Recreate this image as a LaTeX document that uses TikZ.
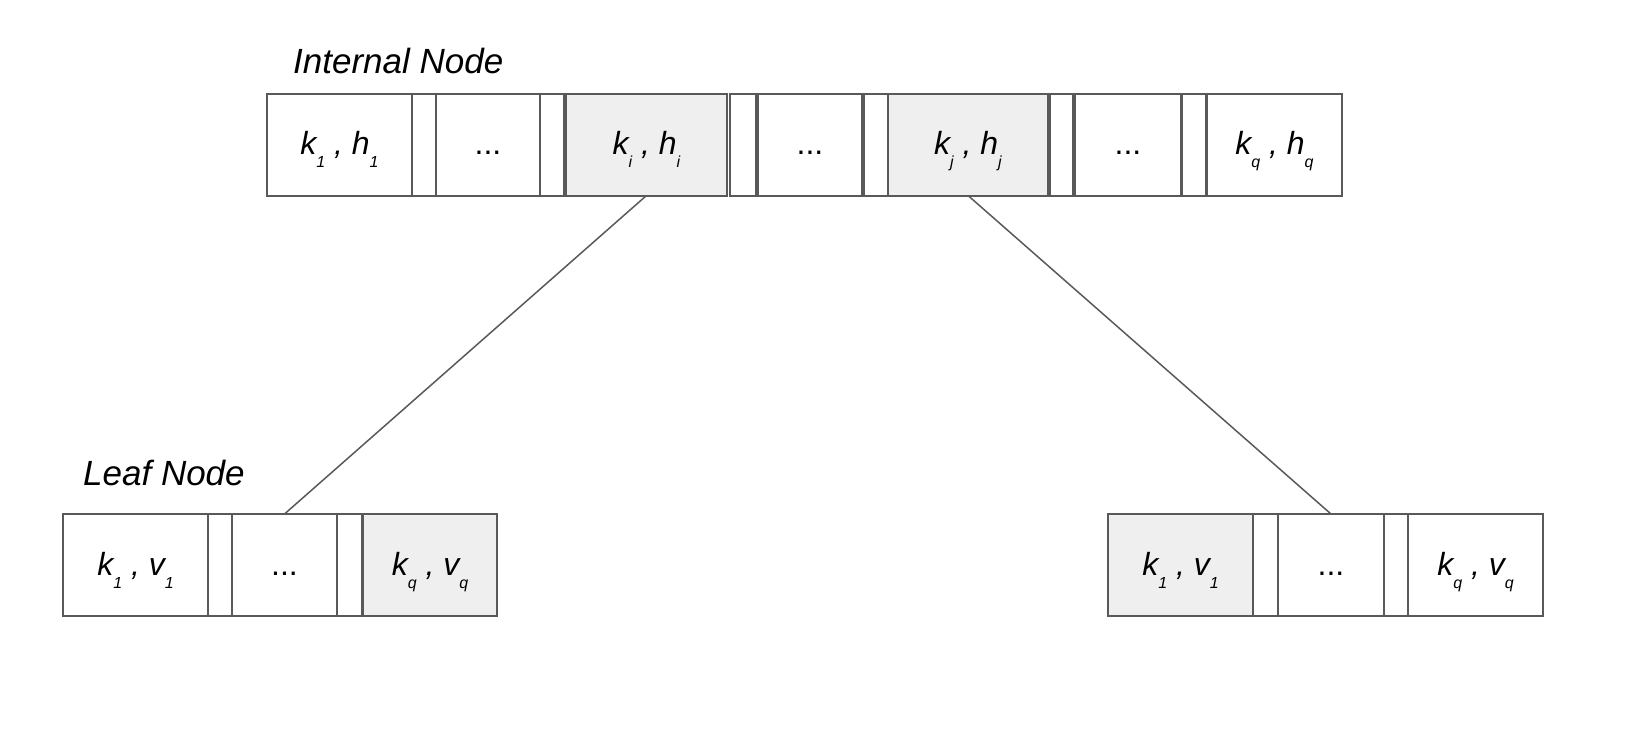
\documentclass[tikz,border=0pt]{standalone}
\usepackage{fontspec}
\setmainfont{Liberation Sans}
\usepackage{tikz}
\usetikzlibrary{positioning}
\definecolor{boxgray}{HTML}{595959}
\definecolor{cellfill}{HTML}{EFEFEF}
\newcommand{\kvsub}[1]{\raisebox{-13pt}{\fontsize{16}{18}\selectfont #1}}
\newcommand{\kvpair}[4]{#1\kvsub{#2} , #3\kvsub{#4}}
\newcommand{\kvdots}{{\upshape ...}}

\begin{document}
\begin{tikzpicture}[x=1pt, y=1pt,
cell/.style={rectangle, draw=boxgray, line width=2pt, inner sep=0pt, outer sep=0pt, minimum height=102pt, text height=30pt, text depth=10pt, font=\fontsize{32}{38}\selectfont\itshape},
slot/.style={cell, minimum width=24pt},
hit/.style={cell, fill=cellfill},
title/.style={inner sep=0pt, anchor=base west, font=\fontsize{35}{42}\selectfont\itshape},
link/.style={draw=boxgray, line width=1.5pt}
]
\useasboundingbox (0,0) rectangle (1628,-742);
%Labels
\node[title] (TI) at (293,-73) {Internal Node};
\node[title] (TL) at (83,-485) {Leaf Node};
%Internal node
\node[cell, minimum width=145pt, anchor=north west] (I1) at (267,-93.5) {\kvpair{k}{1}{h}{1}};
\node[slot] (I2) [right=0pt of I1] {};
\node[cell, minimum width=104pt] (I3) [right=0pt of I2] {\kvdots};
\node[slot] (I4) [right=0pt of I3] {};
\node[hit, minimum width=161pt] (I5) [right=2pt of I4] {\kvpair{k}{i}{h}{i}};
\node[slot, minimum width=26pt] (I6) [right=3pt of I5] {};
\node[cell, minimum width=104pt] (I7) [right=2pt of I6] {\kvdots};
\node[slot] (I8) [right=2pt of I7] {};
\node[hit, minimum width=160pt] (I9) [right=0pt of I8] {\kvpair{k}{j}{h}{j}};
\node[slot, minimum width=23pt] (I10) [right=2pt of I9] {};
\node[cell, minimum width=106pt] (I11) [right=2pt of I10] {\kvdots};
\node[slot] (I12) [right=1pt of I11] {};
\node[cell, minimum width=135pt] (I13) [right=1pt of I12] {\kvpair{k}{q}{h}{q}};
%Left leaf
\node[cell, minimum width=145pt, anchor=north west] (L1) at (63,-514) {\kvpair{k}{1}{v}{1}};
\node[slot] (L2) [right=0pt of L1] {};
\node[cell, minimum width=105pt] (L3) [right=0pt of L2] {\kvdots};
\node[slot, minimum width=25pt] (L4) [right=0pt of L3] {};
\node[hit, minimum width=134pt] (L5) [right=1pt of L4] {\kvpair{k}{q}{v}{q}};
%Right leaf
\node[hit, minimum width=145pt, anchor=north west] (R1) at (1108,-514) {\kvpair{k}{1}{v}{1}};
\node[slot, minimum width=25pt] (R2) [right=0pt of R1] {};
\node[cell, minimum width=106pt] (R3) [right=0pt of R2] {\kvdots};
\node[slot] (R4) [right=0pt of R3] {};
\node[cell, minimum width=135pt] (R5) [right=0pt of R4] {\kvpair{k}{q}{v}{q}};
%Lines
\draw[link] (I5.south) -- (L3.north);
\draw[link] (I9.south) -- (R3.north);
\end{tikzpicture}
\end{document}
